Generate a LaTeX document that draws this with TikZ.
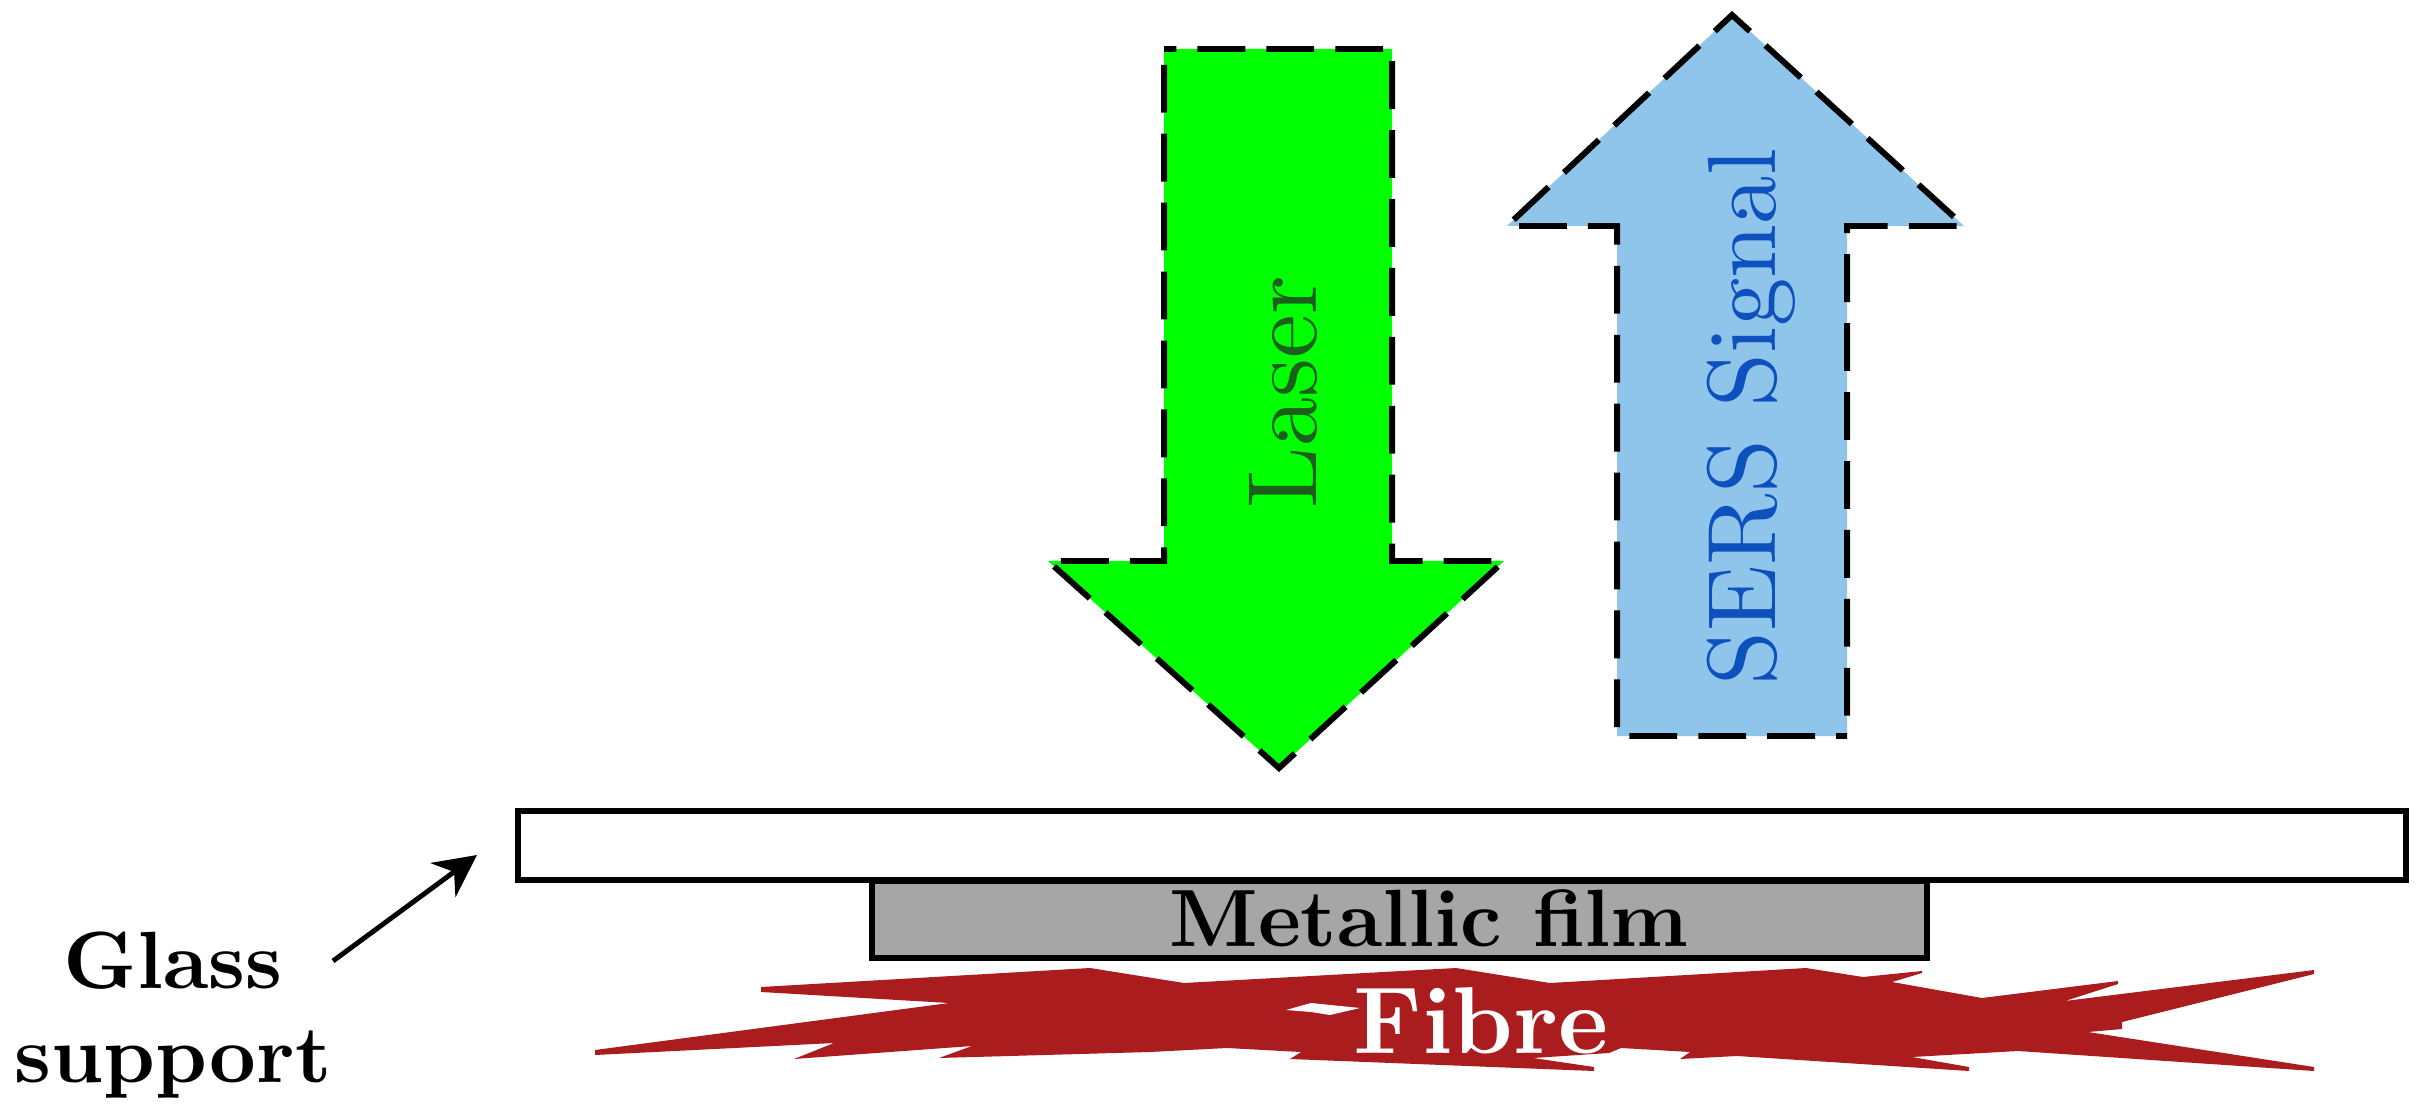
\documentclass[tikz,border=0pt]{standalone}
\usepackage{xcolor}
\usetikzlibrary{calc,arrows.meta}
\definecolor{lasergreen}{RGB}{0,255,0}
\definecolor{lasertext}{RGB}{28,95,28}
\definecolor{sersblue}{RGB}{143,197,234}
\definecolor{serstext}{RGB}{13,80,190}
\definecolor{fibrered}{RGB}{171,28,30}
\definecolor{filmgray}{RGB}{166,166,166}

\begin{document}
\begin{tikzpicture}[x=0.01cm,y=-0.01cm,
		beam/.style={line width=1.7pt,dash pattern=on 13.6pt off 6pt},
		plate/.style={line width=1.75pt},
		bigtext/.style={font=\fontsize{10}{12}\selectfont,inner sep=0pt,scale=2.8,transform shape,rotate=90,anchor=base west},
		boldtext/.style={font=\fontsize{10}{11.6}\selectfont\bfseries,inner sep=0pt,align=center,scale=2.31,transform shape}]
	\useasboundingbox (0,0) rectangle (2422,1110);
	% arrows
	\draw[beam,dash phase=10.1pt,fill=lasergreen] (1164,49) -- (1392,49) -- (1392,561) -- (1504,561) -- (1279,768) -- (1048,561) -- (1164,561) -- cycle;
	\draw[beam,dash phase=10.5pt,fill=sersblue] (1847,736) -- (1617,736) -- (1617,226) -- (1507,226) -- (1732,15) -- (1964,226) -- (1847,226) -- cycle;
	\node[bigtext,text=lasertext] (laser) at (1316,510) {Laser};
	\node[bigtext,text=serstext,scale=0.985] (sers) at (1775,687) {SERS Signal};
	% glass and film
	\coordinate (G1) at (518,811);
	\coordinate (G2) at (2406,880);
	\draw[plate] (G1) rectangle (G2);
	\coordinate (M1) at (872,881);
	\coordinate (M2) at (1927,958);
	\draw[plate,fill=filmgray] (M1) rectangle (M2);
	\node[boldtext,anchor=base] (film) at (1429,946) {Metallic film};
	% fibre
	\fill[fibrered] (595,1050) -- (949,1003) -- (761,992) -- (761,987) -- (1090,968) -- (1184,983) -- (1456,968) -- (1550,983) -- (1806,968) -- (1863,977) -- (1922,971) -- (1922,973) -- (1892,982) -- (1982,998) -- (2118,981) -- (2118,984) -- (2065,1001) -- (2314,970) -- (2314,974) -- (2122,1022) -- (2122,1029) -- (2088,1032) -- (2314,1067) -- (2314,1071) -- (2018,1051) -- (1912,1057) -- (1969,1067) -- (1969,1071) -- (1737,1056) -- (1680,1059) -- (1690,1052) -- (1621,1048) -- (1609,1053) -- (1533,1058) -- (1594,1067) -- (1594,1071) -- (1290,1059) -- (1301,1052) -- (1227,1048) -- (1150,1052) -- (939,1058) -- (972,1046) -- (794,1059) -- (834,1043) -- (595,1055) -- cycle;
	\fill[white] (1286,1010) -- (1311,1003) -- (1360,1008) -- (1330,1015) -- (1311,1012) -- cycle;
	\node[boldtext,anchor=base,text=white,scale=1.17] (fibre) at (1481,1053) {Fibre};
	% label
	\node[boldtext] (glass) at (173,1015) {Glass\\support};
	\coordinate (Gp) at (477,855);
	\draw[line width=1.4pt,-{Stealth[length=12pt,width=12pt]}] ($(glass.east)+(0,-54)$) -- (Gp);
\end{tikzpicture}
\end{document}
